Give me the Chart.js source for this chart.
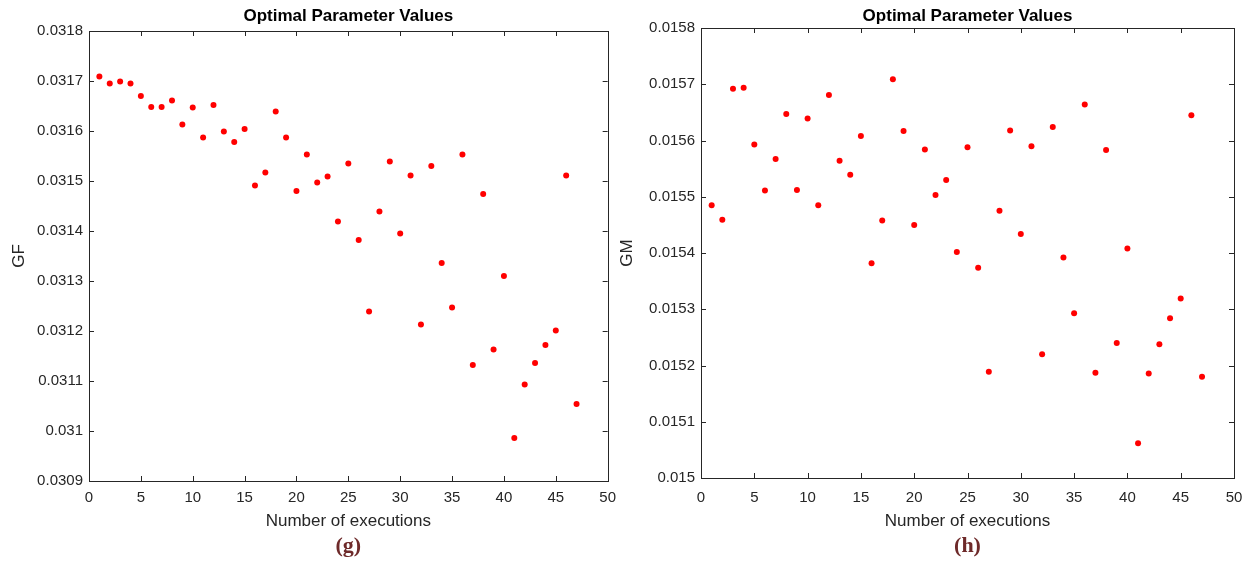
<!DOCTYPE html>
<html>
<head>
<meta charset="utf-8">
<script src="https://cdn.jsdelivr.net/npm/chart.js@4.4.0/dist/chart.umd.min.js"></script>
<style>
  body { margin: 0; background: #fff; width: 1254px; height: 562px; position: relative; overflow: hidden; }
  .panel { position: absolute; top: 0; height: 562px; }
  #panelG { left: 0; width: 624px; }
  #panelH { left: 610px; width: 644px; }
</style>
</head>
<body>
<div class="panel" id="panelG"><canvas id="chartG" width="624" height="562"></canvas></div>
<div class="panel" id="panelH"><canvas id="chartH" width="644" height="562"></canvas></div>
<script>
// run number of each optimisation
const runs = [1, 2, 3, 4, 5, 6, 7, 8, 9, 10, 11, 12, 13, 14, 15, 16, 17, 18, 19, 20,
  21, 22, 23, 24, 25, 26, 27, 28, 29, 30, 31, 32, 33, 34, 35, 36, 37, 38, 39, 40,
  41, 42, 43, 44, 45, 46, 47]

const gfValues = [0.031709, 0.031695, 0.031699, 0.031695, 0.031670, 0.031648, 0.031648, 0.031661, 0.031613, 0.031647,
  0.031587, 0.031652, 0.031599, 0.031578, 0.031604, 0.031491, 0.031517, 0.031639, 0.031587, 0.031480,
  0.031553, 0.031497, 0.031509, 0.031419, 0.031535, 0.031382, 0.031239, 0.031439, 0.031539, 0.031395,
  0.031511, 0.031213, 0.031530, 0.031336, 0.031247, 0.031553, 0.031132, 0.031474, 0.031163, 0.031310,
  0.030986, 0.031093, 0.031136, 0.031172, 0.031201, 0.031511, 0.031054]

const gmValues = [0.015485, 0.015459, 0.015692, 0.015694, 0.015593, 0.015511, 0.015567, 0.015647, 0.015512, 0.015639,
  0.015485, 0.015681, 0.015564, 0.015539, 0.015608, 0.015382, 0.015458, 0.015709, 0.015617, 0.015450,
  0.015584, 0.015503, 0.015530, 0.015402, 0.015588, 0.015374, 0.015189, 0.015475, 0.015618, 0.015434,
  0.015590, 0.015220, 0.015624, 0.015392, 0.015293, 0.015664, 0.015187, 0.015583, 0.015240, 0.015408,
  0.015062, 0.015186, 0.015238, 0.015284, 0.015319, 0.015645, 0.015180]

const xTicks = [0, 5, 10, 15, 20, 25, 30, 35, 40, 45, 50]
const gfTicks = [0.0309, 0.0310, 0.0311, 0.0312, 0.0313, 0.0314, 0.0315, 0.0316, 0.0317, 0.0318]
const gmTicks = [0.0150, 0.0151, 0.0152, 0.0153, 0.0154, 0.0155, 0.0156, 0.0157, 0.0158]

const axisColor = '#262626'
const sans = '"Liberation Sans", Arial, sans-serif'

// box around the plot, inward ticks on all four sides, title and panel letter
const framePlugin = {
  id: 'frame',
  afterDraw(chart, args, opts) {
    const { ctx, chartArea: a, scales: { x, y } } = chart
    ctx.save()
    ctx.strokeStyle = axisColor
    ctx.lineWidth = 1
    ctx.strokeRect(Math.round(a.left) + 0.5, Math.round(a.top) + 0.5,
      Math.round(a.right - a.left), Math.round(a.bottom - a.top))
    ctx.beginPath()
    x.ticks.forEach(t => {
      const px = Math.round(x.getPixelForValue(t.value)) + 0.5
      ctx.moveTo(px, a.bottom); ctx.lineTo(px, a.bottom - 5)
      ctx.moveTo(px, a.top); ctx.lineTo(px, a.top + 5)
    })
    y.ticks.forEach(t => {
      const py = Math.round(y.getPixelForValue(t.value)) + 0.5
      ctx.moveTo(a.left, py); ctx.lineTo(a.left + 5, py)
      ctx.moveTo(a.right, py); ctx.lineTo(a.right - 5, py)
    })
    ctx.stroke()

    const cx = (a.left + a.right) / 2
    ctx.textAlign = 'center'
    ctx.textBaseline = 'middle'
    ctx.fillStyle = '#000'
    ctx.font = 'bold 17px ' + sans
    ctx.fillText(opts.title, cx, 16)
    ctx.fillStyle = '#6e2a2a'
    ctx.font = 'bold 22px "Liberation Serif", "Times New Roman", serif'
    ctx.fillText(opts.letter, cx, 546)
    ctx.restore()
  }
}

const makeChart = (id, values, yTicks, yName, letter, yWidth, titlePad, top, xHeight, tickPad, right) => {
  new Chart(getEl(id), {
    type: 'scatter',
    data: {
      datasets: [{
        data: runs.map((r, i) => ({ x: r, y: values[i] })),
        backgroundColor: '#ff0000',
        pointRadius: 3,
        pointBorderWidth: 0,
        pointHoverRadius: 3
      }]
    },
    options: {
      responsive: false,
      animation: false,
      layout: { padding: { top: top, bottom: 562 - top - 450 - xHeight, left: 0, right: right } },
      plugins: {
        legend: { display: false },
        tooltip: { enabled: false },
        frame: { title: 'Optimal Parameter Values', letter: letter }
      },
      scales: {
        x: {
          type: 'linear',
          min: 0,
          max: 50,
          afterBuildTicks: s => { s.ticks = xTicks.map(v => ({ value: v })) },
          afterFit: s => { s.height = xHeight },
          grid: { display: false, drawTicks: false },
          border: { display: false },
          ticks: { padding: tickPad, color: axisColor, font: { family: sans, size: 15 }, callback: v => String(v) },
          title: { display: true, text: 'Number of executions', color: axisColor, padding: { top: 0, bottom: 1 }, font: { family: sans, size: 17 } }
        },
        y: {
          type: 'linear',
          min: yTicks[0],
          max: yTicks[yTicks.length - 1],
          afterBuildTicks: s => { s.ticks = yTicks.map(v => ({ value: v })) },
          afterFit: s => { s.width = yWidth },
          grid: { display: false, drawTicks: false },
          border: { display: false },
          ticks: { padding: 6, color: axisColor, font: { family: sans, size: 15 }, callback: v => String(parseFloat(v.toFixed(4))) },
          title: { display: true, text: yName, color: axisColor, padding: { top: titlePad, bottom: 0 }, font: { family: sans, size: 17 } }
        }
      }
    },
    plugins: [framePlugin]
  })
}

const getEl = (id) => document.getElementById(id)

makeChart('chartG', gfValues, gfTicks, 'GF', '(g)', 89, 9, 31, 52, 8, 8)
makeChart('chartH', gmValues, gmTicks, 'GM', '(h)', 91, 7, 28, 55, 11, 20)
</script>
</body>
</html>
